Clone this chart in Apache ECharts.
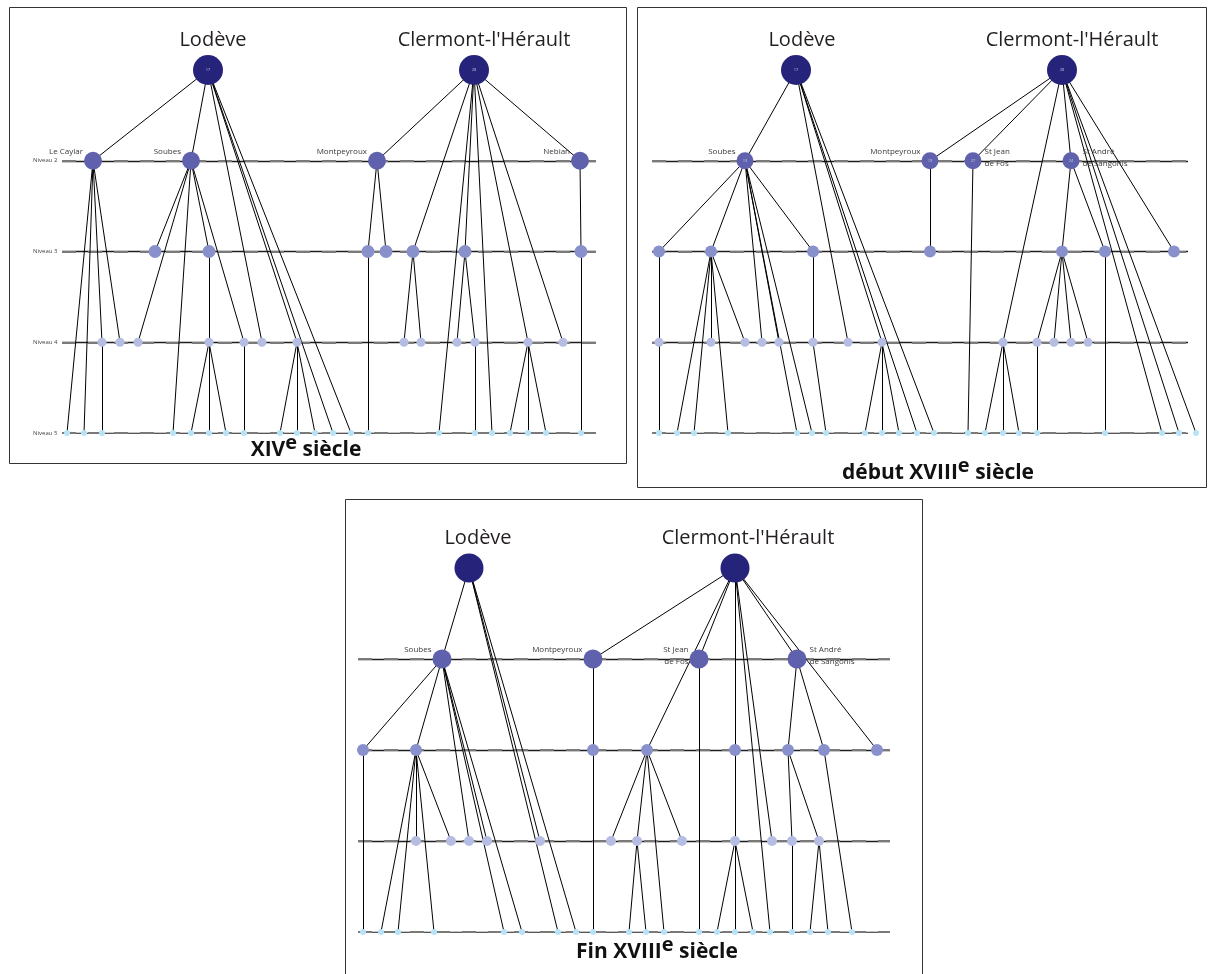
<!DOCTYPE html>
<html>
<head>
<meta charset="utf-8">
<title>Lodève / Clermont-l'Hérault - niveaux</title>
<style>
  *{margin:0;padding:0;}
  body{background:#fff;}
  #chart{width:1213px;height:974px;}
</style>
</head>
<body>
<div id="chart"></div>
<script src="https://cdn.jsdelivr.net/npm/echarts@6/dist/echarts.min.js"></script>
<script>
// tick labels of the levels (level 1 = the two towns)
var levelLabels = ['', 'Niveau 2', 'Niveau 3', 'Niveau 4', 'Niveau 5'];

// nodes: [level, position along the level, parent "level:position"]
var xivNodes = [
  [1,199,null],[1,465,null],
  [2,84,'1:199'],[2,182,'1:199'],[2,368,'1:465'],[2,571,'1:465'],
  [3,146,'2:182'],[3,200,'2:182'],[3,359,'2:368'],[3,377,'2:368'],[3,404,'1:465'],[3,456,'1:465'],[3,572,'2:571'],
  [4,93,'2:84'],[4,111,'2:84'],[4,129,'2:182'],[4,200,'3:200'],[4,235,'2:182'],[4,253,'1:199'],[4,288,'1:199'],
  [4,395,'3:404'],[4,412,'3:404'],[4,448,'3:456'],[4,466,'3:456'],[4,519,'1:465'],[4,554,'1:465'],
  [5,58,'2:84'],[5,75,'2:84'],[5,93,'4:93'],[5,164,'2:182'],[5,182,'4:200'],[5,200,'4:200'],[5,217,'4:200'],
  [5,235,'4:235'],[5,271,'4:288'],[5,288,'4:288'],[5,306,'4:288'],[5,324,'1:199'],[5,342,'1:199'],[5,359,'3:359'],
  [5,430,'1:465'],[5,466,'4:466'],[5,483,'1:465'],[5,501,'4:519'],[5,519,'4:519'],[5,537,'4:519'],[5,572,'3:572']
];
var xivNames = {'1:199':'Lodève','1:465':"Clermont-l'Hérault",'2:84':'Le Caylar','2:182':'Soubes','2:368':'Montpeyroux','2:571':'Nebian'};
var xivCounts = {'1:199':'17','1:465':'28'};

var debNodes = [
  [1,159,null],[1,425,null],
  [2,108,'1:159'],[2,293,'1:425'],[2,336,'1:425'],[2,434,'1:425'],
  [3,22,'2:108'],[3,74,'2:108'],[3,176,'2:108'],[3,293,'2:293'],[3,425,'2:434'],[3,468,'2:434'],[3,537,'1:425'],
  [4,22,'3:22'],[4,74,'3:74'],[4,108,'3:74'],[4,125,'2:108'],[4,142,'2:108'],[4,176,'3:176'],[4,211,'1:159'],[4,245,'1:159'],
  [4,366,'1:425'],[4,400,'3:425'],[4,417,'3:425'],[4,434,'3:425'],[4,451,'3:425'],
  [5,22,'4:22'],[5,40,'3:74'],[5,57,'3:74'],[5,91,'3:74'],[5,160,'2:108'],[5,175,'2:108'],[5,189,'4:176'],
  [5,228,'4:245'],[5,245,'4:245'],[5,262,'4:245'],[5,280,'1:159'],[5,297,'1:159'],[5,331,'2:336'],
  [5,348,'4:366'],[5,366,'4:366'],[5,382,'4:366'],[5,400,'4:400'],[5,468,'3:468'],[5,525,'1:425'],[5,542,'1:425'],[5,559,'1:425']
];
var debNames = {'1:159':'Lodève','1:425':"Clermont-l'Hérault",'2:108':'Soubes','2:293':'Montpeyroux','2:336':'St Jean\nde Fos','2:434':'St André\nde Sangonis'};
var debCounts = {'1:159':'17','1:425':'28','2:108':'13','2:293':'19','2:336':'27','2:434':'24'};

var finNodes = [
  [1,124,null],[1,390,null],
  [2,97,'1:124'],[2,248,'1:390'],[2,354,'1:390'],[2,452,'1:390'],
  [3,18,'2:97'],[3,71,'2:97'],[3,248,'2:248'],[3,302,'1:390'],[3,390,'1:390'],[3,443,'2:452'],[3,479,'2:452'],[3,532,'1:390'],
  [4,71,'3:71'],[4,106,'3:71'],[4,124,'2:97'],[4,142,'2:97'],[4,195,'1:124'],[4,266,'3:302'],[4,292,'3:302'],[4,337,'3:302'],
  [4,390,'3:390'],[4,427,'1:390'],[4,447,'3:443'],[4,474,'3:443'],
  [5,18,'3:18'],[5,36,'3:71'],[5,53,'3:71'],[5,89,'3:71'],[5,159,'2:97'],[5,177,'2:97'],[5,213,'1:124'],[5,231,'1:124'],
  [5,248,'3:248'],[5,284,'4:292'],[5,301,'4:292'],[5,319,'3:302'],[5,354,'2:354'],[5,372,'4:390'],[5,390,'4:390'],
  [5,408,'4:390'],[5,425,'1:390'],[5,447,'4:447'],[5,465,'4:474'],[5,483,'4:474'],[5,507,'3:479']
];
var finNames = {'1:124':'Lodève','1:390':"Clermont-l'Hérault",'2:97':'Soubes','2:248':'Montpeyroux','2:354':'St Jean\nde Fos','2:452':'St André\nde Sangonis'};
var finCounts = {};

var captions = ['XIV{sup|e} siècle', 'début XVIII{sup|e} siècle', 'Fin XVIII{sup|e} siècle'];

// ---- layout / style ----
var FONT = '"Open Sans", "Noto Sans", sans-serif';
var COLORS = ['#26237b', '#5f61ac', '#8891cb', '#b5bde3', '#b8e2f6'];
var panels = [
  {nodes: xivNodes, names: xivNames, counts: xivCounts, box: [9, 7, 617, 456], top: 70, h: 363, line: [53, 587],
   sizes: [30, 18, 13, 9, 6], right: {}, titleOff: [5, 10], caption: [306, 450], axisLabels: true},
  {nodes: debNodes, names: debNames, counts: debCounts, box: [637, 7, 569, 480], top: 70, h: 363, line: [15, 551],
   sizes: [30, 17, 12, 9, 6], right: {'2:336': 1, '2:434': 1}, titleOff: [6, 10], caption: [938, 473]},
  {nodes: finNodes, names: finNames, counts: finCounts, box: [345, 499, 577, 480], top: 568, h: 364, line: [13, 545],
   sizes: [29, 19, 12, 10, 6], right: {'2:452': 1}, titleOff: [9, 13], caption: [657, 952]}
];

var grid = [], xAxis = [], yAxis = [], series = [], graphic = [];

panels.forEach(function (p, i) {
  grid.push({left: p.box[0], top: p.top, width: p.box[2], height: p.h});
  xAxis.push({gridIndex: i, type: 'value', min: 0, max: p.box[2], show: false});
  yAxis.push({
    gridIndex: i, type: 'value', min: 1, max: 5, interval: 1, inverse: true, show: !!p.axisLabels,
    axisLine: {show: false}, axisTick: {show: false}, splitLine: {show: false},
    axisLabel: {inside: true, margin: 24, fontSize: 6, color: '#444', fontFamily: FONT,
      formatter: function (v) { return levelLabels[v - 1] || ''; }}
  });

  // level lines
  var lv = [2, 3, 4, 5].map(function (l) { return {coords: [[p.line[0], l], [p.line[1], l]]}; });
  series.push({type: 'lines', coordinateSystem: 'cartesian2d', xAxisIndex: i, yAxisIndex: i, z: 1,
    lineStyle: {color: '#1e1e1e', width: 1.4, opacity: 1}, data: lv, silent: true});
  series.push({type: 'lines', coordinateSystem: 'cartesian2d', xAxisIndex: i, yAxisIndex: i, z: 1,
    lineStyle: {color: '#7a7a7a', width: 2, type: [14, 12], opacity: 1}, data: lv, silent: true});

  var data = p.nodes.map(function (n) {
    var id = n[0] + ':' + n[1];
    var item = {name: id, value: [n[1], n[0]], symbolSize: p.sizes[n[0] - 1],
      itemStyle: {color: COLORS[n[0] - 1]}};
    var txt = p.names[id];
    if (txt && n[0] === 1) {
      item.label = {show: true, position: 'top', distance: 5, offset: [id === p.nodes[0][0] + ':' + p.nodes[0][1] ? p.titleOff[0] : p.titleOff[1], 0],
        formatter: txt, fontSize: 20, color: '#231f20', fontFamily: FONT};
    } else if (txt) {
      var r = p.right[id];
      item.label = {show: true, position: r ? 'right' : 'left', distance: r ? 3 : 1,
        offset: txt.indexOf('\n') >= 0 ? [0, -3] : [0, -9], lineHeight: 12,
        formatter: txt, fontSize: 8, color: '#3a3a3a', fontFamily: FONT};
    }
    return item;
  });
  var links = p.nodes.filter(function (n) { return n[2]; }).map(function (n) {
    return {source: n[2], target: n[0] + ':' + n[1]};
  });
  series.push({type: 'graph', coordinateSystem: 'cartesian2d', xAxisIndex: i, yAxisIndex: i, z: 2,
    data: data, links: links, edgeSymbol: ['none', 'none'],
    lineStyle: {color: '#000', width: 1, opacity: 1, curveness: 0},
    emphasis: {disabled: true}, label: {show: false}});

  // tiny counts printed in the circles
  var cnt = p.nodes.filter(function (n) { return p.counts[n[0] + ':' + n[1]]; }).map(function (n) {
    return {value: [n[1], n[0]], label: {formatter: p.counts[n[0] + ':' + n[1]]}};
  });
  series.push({type: 'scatter', xAxisIndex: i, yAxisIndex: i, z: 3, symbolSize: 0, silent: true, data: cnt,
    label: {show: true, position: 'inside', fontSize: 4, color: '#dfe0f2', fontFamily: FONT}});

  graphic.push({type: 'rect', shape: {x: p.box[0] + 0.5, y: p.box[1] + 0.5, width: p.box[2], height: p.box[3]},
    style: {fill: 'none', stroke: '#333', lineWidth: 1}, z: 0});
  graphic.push({type: 'text', x: p.caption[0], y: p.caption[1], z: 5,
    style: {text: captions[i], fontSize: 21, fontWeight: 'bold', fontFamily: FONT, fill: '#111',
      textAlign: 'center', textVerticalAlign: 'middle',
      rich: {sup: {fontSize: 20, fontWeight: 'bold', fontFamily: FONT, padding: [0, 0, 13, 0], color: '#111'}}}});
});

var chart = echarts.init(document.getElementById('chart'));
chart.setOption({
  animation: false,
  grid: grid, xAxis: xAxis, yAxis: yAxis,
  graphic: graphic,
  series: series
});
</script>
</body>
</html>
